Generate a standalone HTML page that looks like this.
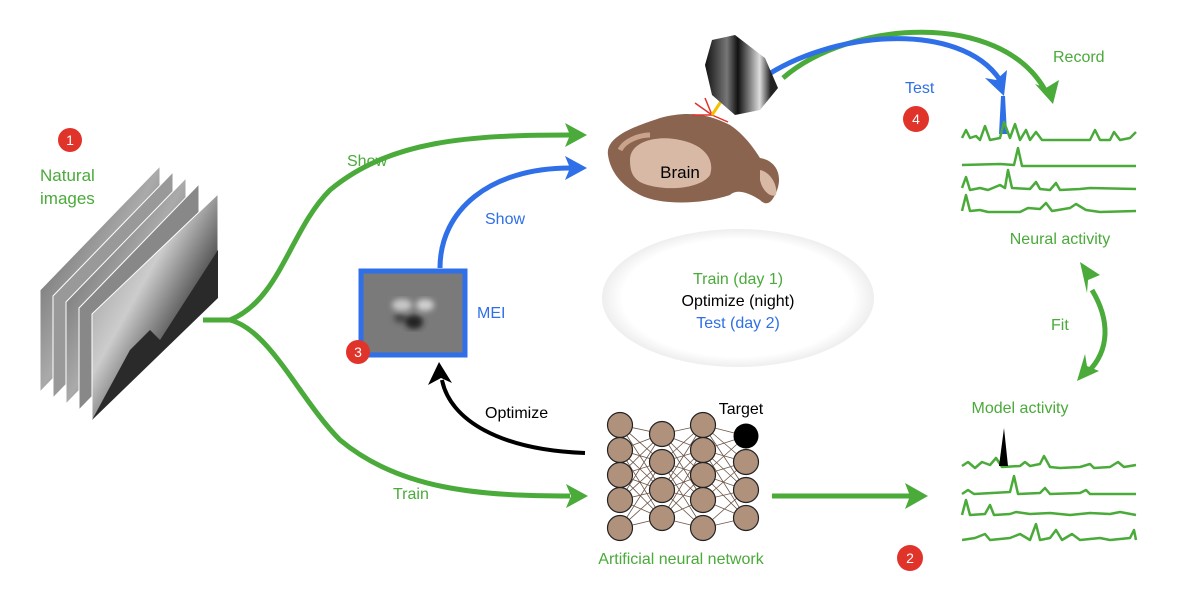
<!DOCTYPE html>
<html><head><meta charset="utf-8"><style>
html,body{margin:0;padding:0;background:#fff;}
svg{display:block;}
text{font-family:"Liberation Sans",Arial,sans-serif;}
</style></head><body>
<svg width="1200" height="595" viewBox="0 0 1200 595" xmlns="http://www.w3.org/2000/svg">
<defs>
<linearGradient id="img1" x1="0" y1="0" x2="1" y2="1">
<stop offset="0" stop-color="#888"/><stop offset="0.4" stop-color="#ccc"/><stop offset="0.7" stop-color="#333"/><stop offset="1" stop-color="#555"/></linearGradient>
<linearGradient id="img2" x1="0" y1="0" x2="1" y2="1">
<stop offset="0" stop-color="#555"/><stop offset="0.5" stop-color="#aaa"/><stop offset="1" stop-color="#444"/></linearGradient>
<linearGradient id="obj" x1="0" y1="0" x2="1" y2="0">
<stop offset="0" stop-color="#111"/><stop offset="0.3" stop-color="#777"/><stop offset="0.45" stop-color="#111"/><stop offset="0.75" stop-color="#ddd"/><stop offset="0.9" stop-color="#222"/></linearGradient>
<radialGradient id="ell" cx="0.5" cy="0.5" r="0.5">
<stop offset="0.85" stop-color="#fff"/><stop offset="1" stop-color="#eee"/></radialGradient>
<filter id="bl"><feGaussianBlur stdDeviation="3"/></filter>
</defs>

<!-- image stack -->
<g stroke="#fff" stroke-width="1">
<polygon points="40,290 160,166 160,268 40,392" fill="url(#img2)"/>
<polygon points="53,296 173,172 173,274 53,398" fill="#999"/>
<polygon points="66,302 186,178 186,280 66,404" fill="url(#img2)"/>
<polygon points="79,308 199,184 199,286 79,410" fill="#888"/>
<polygon points="92,314 218,194 218,298 92,420" fill="url(#img1)"/>
</g>
<polygon points="92,420 130,350 150,330 160,340 218,250 218,298" fill="#2a2a2a"/>

<circle cx="70" cy="140" r="12" fill="#e0332a"/>
<text x="70" y="145" font-size="14" fill="#fff" text-anchor="middle">1</text>
<text x="40" y="181" font-size="17" fill="#4aaa3a">Natural</text>
<text x="40" y="204" font-size="17" fill="#4aaa3a">images</text>

<!-- green branches -->
<g fill="none" stroke="#4aaa3a" stroke-width="5">
<path d="M203,320 L230,320 C280,300 290,230 330,190 C390,140 470,135 570,135"/>
<path d="M230,320 C270,330 300,400 340,440 C400,490 480,496 570,496"/>
<path d="M772,496 L910,496"/>
<path d="M783,78 C850,20 1000,10 1045,90"/>
<path d="M1092,290 C1110,320 1110,350 1088,372"/>
</g>
<g fill="#4aaa3a">
<polygon points="587,135 565,123 570,135 565,147"/>
<polygon points="588,496 566,484 571,496 566,508"/>
<polygon points="928,496 905,483 910,496 905,509"/>
<polygon points="1053,104 1035,84 1046,88 1059,80"/>
<polygon points="1080,262 1100,275 1088,280 1087,293"/>
<polygon points="1077,381 1099,371 1087,366 1085,354"/>
</g>
<!-- blue -->
<g fill="none" stroke="#2f6fe8" stroke-width="5">
<path d="M440,268 C440,210 490,168 570,168"/>
<path d="M760,80 C830,30 960,20 1000,80"/>
</g>
<g fill="#2f6fe8">
<polygon points="1004,96 985,78 996,80 1007,70"/>
<polygon points="587,168 565,156 570,168 565,180"/>
<polygon points="999,134 1001,96 1005,96 1007,134"/>
</g>
<text x="347" y="166" font-size="16" fill="#4aaa3a">Show</text>
<text x="485" y="224" font-size="16" fill="#2f6fe8">Show</text>
<text x="393" y="499" font-size="16" fill="#4aaa3a">Train</text>

<!-- MEI -->
<rect x="361" y="271" width="104" height="84" fill="#7a7a7a" stroke="#2f6fe8" stroke-width="5"/>
<g filter="url(#bl)">
<ellipse cx="402" cy="305" rx="10" ry="6" fill="#c8c8c8"/>
<ellipse cx="425" cy="305" rx="9" ry="6" fill="#d0d0d0"/>
<ellipse cx="414" cy="322" rx="9" ry="7" fill="#222"/>
<ellipse cx="400" cy="318" rx="6" ry="5" fill="#444"/>
</g>
<circle cx="358" cy="352" r="12" fill="#e0332a"/>
<text x="358" y="357" font-size="14" fill="#fff" text-anchor="middle">3</text>
<text x="477" y="318" font-size="16" fill="#2f6fe8">MEI</text>

<!-- optimize arrow -->
<path d="M585,453 C500,450 450,420 442,380" fill="none" stroke="#000" stroke-width="4"/>
<polygon points="439,362 428,385 441,378 452,383"/>
<text x="485" y="418" font-size="16" fill="#000">Optimize</text>

<!-- ellipse -->
<ellipse cx="738" cy="298" rx="136" ry="69" fill="url(#ell)"/>
<text x="738" y="284" font-size="16" fill="#4aaa3a" text-anchor="middle">Train (day 1)</text>
<text x="738" y="306" font-size="16" fill="#000" text-anchor="middle">Optimize (night)</text>
<text x="738" y="328" font-size="16" fill="#2f6fe8" text-anchor="middle">Test (day 2)</text>

<!-- brain -->
<path d="M608,155 C605,135 640,125 660,118 C690,110 710,115 730,125 C745,135 755,150 760,158 C775,160 785,175 775,195 C770,205 765,205 760,200 C745,190 735,190 730,195 C700,205 660,205 640,195 C620,185 610,170 608,155 Z" fill="#8b6450"/>
<path d="M630,160 C630,140 660,135 680,140 C705,145 715,160 710,175 C700,190 660,192 640,182 C632,177 630,170 630,160 Z" fill="#d7b9a6"/>
<path d="M760,170 C770,172 778,185 776,195 C770,198 762,190 760,180 Z" fill="#d7b9a6"/>
<path d="M620,150 C625,140 640,135 650,135" stroke="#c9a38c" stroke-width="5" fill="none"/>
<text x="680" y="178" font-size="17" fill="#000" text-anchor="middle">Brain</text>
<!-- sparks -->
<g stroke="#e0332a" stroke-width="1.5">
<line x1="712" y1="115" x2="695" y2="103"/><line x1="712" y1="115" x2="705" y2="98"/><line x1="712" y1="115" x2="728" y2="122"/><line x1="712" y1="115" x2="692" y2="115"/>
</g>
<line x1="712" y1="115" x2="722" y2="100" stroke="#f2c200" stroke-width="3"/>
<!-- objective -->
<polygon points="712,40 735,35 765,58 778,88 760,110 735,115 712,95 705,65" fill="url(#obj)"/>

<!-- 4 -->
<circle cx="916" cy="119" r="13" fill="#e0332a"/>
<text x="916" y="124" font-size="14" fill="#fff" text-anchor="middle">4</text>
<text x="905" y="93" font-size="16" fill="#2f6fe8">Test</text>
<text x="1053" y="62" font-size="16" fill="#4aaa3a">Record</text>

<!-- neural traces -->
<g fill="none" stroke="#4aaa3a" stroke-width="2.5" stroke-linejoin="round">
<path d="M962,138 L966,130 L970,138 L976,136 L980,140 L985,126 L990,140 L1000,138 L1004,122 L1010,138 L1015,124 L1020,140 L1026,130 L1030,140 L1036,132 L1042,140 L1090,140 L1095,130 L1100,140 L1110,140 L1114,132 L1120,140 L1130,138 L1136,132"/>
<path d="M962,165 L1000,164 L1014,165 L1018,148 L1022,166 L1136,166"/>
<path d="M962,188 L966,177 L970,190 L980,188 L988,190 L1000,185 L1005,188 L1008,170 L1012,188 L1030,189 L1036,182 L1040,189 L1050,190 L1056,183 L1060,190 L1080,189 L1090,188 L1136,189"/>
<path d="M962,211 L966,195 L970,211 L980,210 L988,212 L1020,212 L1028,208 L1040,209 L1046,203 L1052,211 L1070,208 L1076,204 L1086,210 L1100,212 L1136,211"/>
</g>
<text x="1060" y="244" font-size="16" fill="#4aaa3a" text-anchor="middle">Neural activity</text>
<text x="1051" y="330" font-size="16" fill="#4aaa3a">Fit</text>
<text x="1020" y="413" font-size="16" fill="#4aaa3a" text-anchor="middle">Model activity</text>

<!-- model traces -->
<g fill="none" stroke="#4aaa3a" stroke-width="2.5" stroke-linejoin="round">
<path d="M962,466 L968,462 L975,468 L982,462 L990,465 L996,458 L1002,467 L1020,466 L1025,462 L1030,466 L1040,464 L1044,456 L1050,467 L1060,468 L1080,467 L1090,464 L1094,468 L1110,467 L1118,462 L1124,467 L1136,465"/>
<path d="M962,494 L968,490 L974,494 L1010,492 L1014,476 L1018,494 L1040,493 L1045,488 L1050,494 L1080,493 L1086,490 L1090,494 L1136,494"/>
<path d="M962,515 L966,500 L970,515 L985,514 L990,505 L994,515 L1010,514 L1016,512 L1030,514 L1050,513 L1070,515 L1090,513 L1110,514 L1120,512 L1136,515"/>
<path d="M962,540 L975,538 L985,534 L990,540 L1010,538 L1020,534 L1030,540 L1036,524 L1040,540 L1050,538 L1056,530 L1062,540 L1072,534 L1080,540 L1100,538 L1110,540 L1130,538 L1134,530 L1136,540"/>
</g>
<polygon points="999,466 1004,428 1008,466"/>
<circle cx="910" cy="558" r="13" fill="#e0332a"/>
<text x="910" y="563" font-size="14" fill="#fff" text-anchor="middle">2</text>

<!-- network -->
<g stroke="#6d5548" stroke-width="0.8">
<path d="M620,425 L662,434 M620,425 L662,462 M620,425 L662,490 M620,450 L662,434 M620,450 L662,462 M620,450 L662,490 M620,450 L662,518 M620,475 L662,434 M620,475 L662,462 M620,475 L662,490 M620,475 L662,518 M620,500 L662,434 M620,500 L662,462 M620,500 L662,490 M620,500 L662,518 M620,528 L662,462 M620,528 L662,490 M620,528 L662,518"/>
<path d="M662,434 L703,425 M662,434 L703,450 M662,434 L703,475 M662,434 L703,500 M662,462 L703,425 M662,462 L703,450 M662,462 L703,475 M662,462 L703,500 M662,462 L703,528 M662,490 L703,425 M662,490 L703,450 M662,490 L703,475 M662,490 L703,500 M662,490 L703,528 M662,518 L703,450 M662,518 L703,475 M662,518 L703,500 M662,518 L703,528"/>
<path d="M703,425 L746,436 M703,425 L746,462 M703,425 L746,490 M703,450 L746,436 M703,450 L746,462 M703,450 L746,490 M703,450 L746,518 M703,475 L746,436 M703,475 L746,462 M703,475 L746,490 M703,475 L746,518 M703,500 L746,462 M703,500 L746,490 M703,500 L746,518 M703,528 L746,490 M703,528 L746,518"/>
</g>
<g fill="#b0927c" stroke="#222" stroke-width="1.2">
<circle cx="620" cy="425" r="12.5"/><circle cx="620" cy="450" r="12.5"/><circle cx="620" cy="475" r="12.5"/><circle cx="620" cy="500" r="12.5"/><circle cx="620" cy="528" r="12.5"/>
<circle cx="662" cy="434" r="12.5"/><circle cx="662" cy="462" r="12.5"/><circle cx="662" cy="490" r="12.5"/><circle cx="662" cy="518" r="12.5"/>
<circle cx="703" cy="425" r="12.5"/><circle cx="703" cy="450" r="12.5"/><circle cx="703" cy="475" r="12.5"/><circle cx="703" cy="500" r="12.5"/><circle cx="703" cy="528" r="12.5"/>
<circle cx="746" cy="462" r="12.5"/><circle cx="746" cy="490" r="12.5"/><circle cx="746" cy="518" r="12.5"/>
</g>
<circle cx="746" cy="436" r="12.5" fill="#000"/>
<text x="741" y="414" font-size="16" fill="#000" text-anchor="middle">Target</text>
<text x="681" y="564" font-size="16" fill="#4aaa3a" text-anchor="middle">Artificial neural network</text>
</svg>
</body></html>
